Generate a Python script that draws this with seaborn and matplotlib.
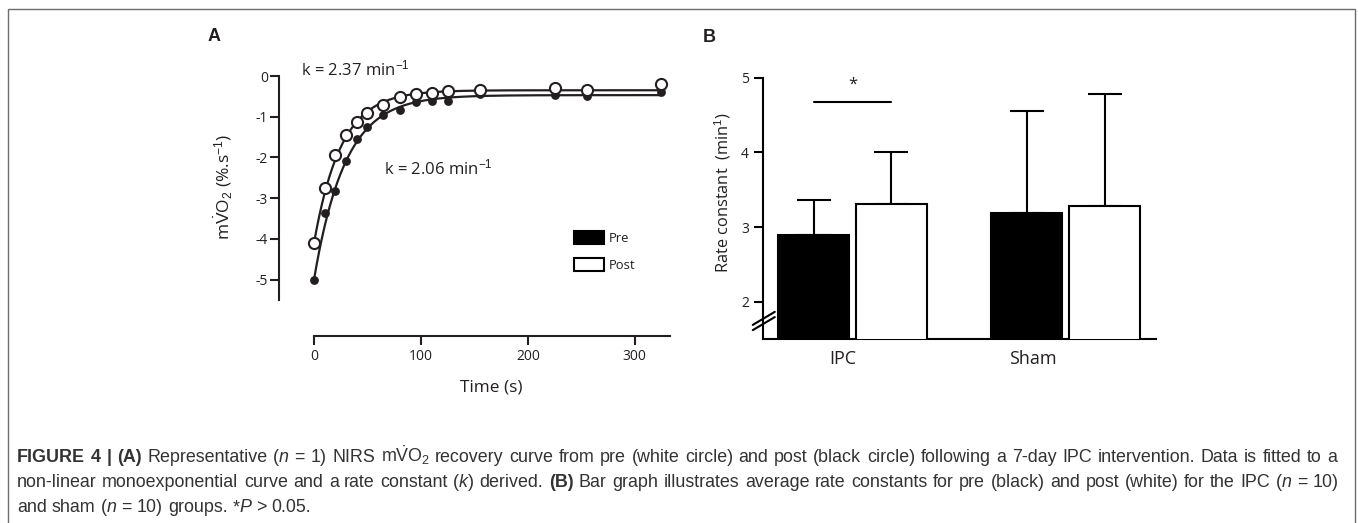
import re
import numpy as np
import pandas as pd
import matplotlib
matplotlib.use("Agg")
import matplotlib.pyplot as plt
import seaborn as sns
from matplotlib.patches import Patch, Rectangle
from matplotlib.container import BarContainer

# ---------------- data ----------------
# Panel A: representative NIRS mVO2 recovery (%.s^-1)
time_s = [0, 10, 20, 30, 40, 50, 65, 80, 95, 110, 125, 155, 225, 255, 325]
open_vals = [-4.10, -2.76, -1.95, -1.45, -1.14, -0.91, -0.71, -0.52, -0.44,
             -0.41, -0.36, -0.35, -0.30, -0.34, -0.20]
filled_vals = [-5.00, -3.37, -2.82, -2.09, -1.54, -1.25, -0.96, -0.84, -0.63,
               -0.61, -0.61, -0.43, -0.47, -0.49, -0.40]
# mono-exponential fit parameters (k in min^-1)
k_open, y0_open, plateau_open = 2.37, -4.10, -0.35
k_filled, y0_filled, plateau_filled = 2.06, -5.00, -0.47
xticks_a = [0, 100, 200, 300]
yticks_a = [0, -1, -2, -3, -4, -5]

# Panel B: rate constants (min^-1)
groups = ["IPC", "Sham"]
conditions = ["Pre", "Post"]
pre_means = [2.90, 3.19]
post_means = [3.31, 3.28]
pre_err = [0.46, 1.36]
post_err = [0.70, 1.50]
yticks_b = [2, 3, 4, 5]
sig_level = 4.675

caption_lines = [
    [("FIGURE 4 | (A)", "b"), (" Representative (", "r"), ("n", "i"), (" = 1) NIRS ", "r"),
     (r"m$\dot{\mathrm{V}}$O$_2$", "r"),
     (" recovery curve from pre (white circle) and post (black circle) following a 7-day IPC intervention. Data is fitted to a", "r")],
    [("non-linear monoexponential curve and a rate constant (", "r"), ("k", "i"), (") derived. ", "r"),
     ("(B)", "b"), (" Bar graph illustrates average rate constants for pre (black) and post (white) for the IPC (", "r"),
     ("n", "i"), (" = 10)", "r")],
    [("and sham (", "r"), ("n", "i"), (" = 10) groups. *", "r"), ("P", "i"), (" > 0.05.", "r")],
]

# ---------------- style ----------------
sns.set_style("ticks")
plt.rcParams["font.family"] = ["Open Sans", "DejaVu Sans"]
plt.rcParams["axes.unicode_minus"] = False
plt.rcParams["mathtext.fontset"] = "custom"
plt.rcParams["mathtext.rm"] = "Liberation Sans"
plt.rcParams["mathtext.it"] = "Liberation Sans:italic"
plt.rcParams["mathtext.bf"] = "Liberation Sans:bold"

W, H = 1358, 523
fig = plt.figure(figsize=(W / 100, H / 100), dpi=100)
fig.patch.set_facecolor("white")
ink = "#231f20"


def fx(px):
    return px / W


def fy(py):
    return 1 - py / H


# ---------------- panel A ----------------
axA = fig.add_axes([fx(314), fy(300), fx(670) - fx(314), fy(76) - fy(300)])
axA.set_xlim(0, 333)
axA.set_ylim(-5.5, 0)

t_fit = np.linspace(0, max(time_s), 400)
fit_open = plateau_open + (y0_open - plateau_open) * np.exp(-k_open / 60 * t_fit)
fit_filled = plateau_filled + (y0_filled - plateau_filled) * np.exp(-k_filled / 60 * t_fit)
sns.lineplot(x=t_fit, y=fit_filled, color=ink, lw=1.6, ax=axA, clip_on=False)
sns.lineplot(x=t_fit, y=fit_open, color=ink, lw=1.6, ax=axA, clip_on=False)
sns.scatterplot(x=time_s, y=filled_vals, color=ink, s=40, edgecolor=ink, linewidth=0,
                ax=axA, clip_on=False, zorder=3)
sns.scatterplot(x=time_s, y=open_vals, facecolor="white", s=64, edgecolor=ink, linewidth=1.5,
                ax=axA, clip_on=False, zorder=4)

for s in ["top", "right"]:
    axA.spines[s].set_visible(False)
axA.spines["left"].set_position(("outward", 35 * 0.72))
axA.spines["bottom"].set_position(("outward", 36 * 0.72))
for s in ["left", "bottom"]:
    axA.spines[s].set_linewidth(1.5)
    axA.spines[s].set_color(ink)
axA.set_xticks(xticks_a)
axA.set_yticks(yticks_a)
axA.set_yticklabels([str(v) for v in yticks_a])
axA.tick_params(axis="both", direction="out", length=6.5, width=1.5, color=ink,
                labelsize=10, labelcolor=ink)
axA.tick_params(axis="y", pad=1.5)
axA.tick_params(axis="x", pad=3)
axA.set_xlabel("")
axA.set_ylabel("")

axA.text(-12, 0.17, "k = 2.37 min$^{-1}$", fontsize=12, color=ink, ha="left", va="center", clip_on=False)
axA.text(65.6, -2.27, "k = 2.06 min$^{-1}$", fontsize=12, color=ink, ha="left", va="center")

fig.text(fx(223), fy(187), r"m$\dot{\mathrm{V}}$O$_2$ (%.s$^{-1}$)", rotation=90,
         fontsize=12.5, color=ink, ha="center", va="center")
fig.text(fx(491), fy(388), "Time (s)", fontsize=12.4, color=ink, ha="center", va="center")

handles = [Patch(facecolor="black", edgecolor="black", lw=1.5, label="Pre"),
           Patch(facecolor="white", edgecolor="black", lw=1.5, label="Post")]
axA.legend(handles=handles, loc="upper left", bbox_to_anchor=(fx(574), fy(231)),
           bbox_transform=fig.transFigure, frameon=False, fontsize=9.4,
           handlelength=2.3, handleheight=1.15, labelspacing=1.0, handletextpad=0.4,
           borderpad=0, borderaxespad=0, labelcolor=ink)

# ---------------- panel B ----------------
axB = fig.add_axes([fx(763), fy(339.3), fx(1156) - fx(763), fy(77.7) - fy(339.3)])
df = pd.DataFrame({
    "group": groups * 2,
    "condition": [conditions[0]] * len(groups) + [conditions[1]] * len(groups),
    "rate": pre_means + post_means,
})
sns.barplot(data=df, x="group", y="rate", hue="condition", hue_order=conditions,
            order=groups, palette={"Pre": "black", "Post": "white"}, edgecolor="black",
            linewidth=1.5, width=0.73, gap=0.09, errorbar=None, legend=False, ax=axB, zorder=3)
axB.set_xlim(-0.42, 1.423)
axB.set_ylim(1.5, 5)

errs = [pre_err, post_err]
bar_conts = [c for c in axB.containers if isinstance(c, BarContainer)]
centers = []
for ci, cont in enumerate(bar_conts):
    cs = []
    for bi, bar in enumerate(list(cont)):
        cx = bar.get_x() + bar.get_width() / 2
        top = bar.get_y() + bar.get_height()
        cs.append(cx)
        axB.errorbar([cx], [top], yerr=[[0], [errs[ci][bi]]], fmt="none", ecolor="black",
                     elinewidth=1.5, capsize=12.5, capthick=1.5, zorder=2)
    centers.append(cs)

# significance bar between IPC pre and post
axB.plot([centers[0][0], centers[1][0]], [sig_level, sig_level], color="black", lw=1.5)
axB.text((centers[0][0] + centers[1][0]) / 2, sig_level + 0.23, "*", ha="center", va="center",
         fontsize=12, color=ink)

for s in ["top", "right"]:
    axB.spines[s].set_visible(False)
for s in ["left", "bottom"]:
    axB.spines[s].set_linewidth(1.5)
    axB.spines[s].set_color("black")
axB.set_yticks(yticks_b)
axB.set_yticklabels([str(v) for v in yticks_b])
axB.set_xticks([-0.045, 0.846])
axB.set_xticklabels(groups)
axB.tick_params(axis="y", direction="out", length=6.5, width=1.5, color="black",
                labelsize=10, labelcolor=ink, pad=3.5)
axB.tick_params(axis="x", length=0, labelsize=13, labelcolor=ink, pad=8)
axB.set_xlabel("")
axB.set_ylabel("")
fig.text(fx(723), fy(193), "Rate constant  (min$^{1}$)", rotation=90, fontsize=11.8,
         color=ink, ha="center", va="center")

# axis break marks
for dy in (0.0, 0.02):
    axB.plot([-0.026, 0.03], [0.035 + dy, 0.085 + dy], transform=axB.transAxes,
             color="black", lw=1.5, clip_on=False, zorder=5)

# panel letters
fig.text(fx(214), fy(36), "A", fontsize=13, fontweight="bold", family="Liberation Sans",
         color=ink, ha="center", va="center")
fig.text(fx(709), fy(37), "B", fontsize=13, fontweight="bold", family="Liberation Sans",
         color=ink, ha="center", va="center")

# frame
fig.add_artist(Rectangle((fx(8), fy(540)), fx(1355) - fx(8), fy(9) - fy(540),
                         transform=fig.transFigure, fill=False, edgecolor="#6d6e71", lw=1))

# ---------------- caption (justified lines 1-2) ----------------
renderer = fig.canvas.get_renderer()
cap_color = "#333333"
cap_size = 12.9


def style_kw(style):
    kw = dict(fontsize=cap_size, color=cap_color, family="Liberation Sans")
    if style == "b":
        kw["fontweight"] = "bold"
    if style == "i":
        kw["fontstyle"] = "italic"
    return kw


def advance(s, kw):
    t1 = fig.text(0, 0, "|" + s + "|", **kw)
    t2 = fig.text(0, 0, "||", **kw)
    w = t1.get_window_extent(renderer).width - t2.get_window_extent(renderer).width
    t1.remove()
    t2.remove()
    return w


line_right = [1337, 1339, None]
x_left = 17.0
for li, runs in enumerate(caption_lines):
    tokens = []
    for s, st in runs:
        for tok in re.split(r"( )", s):
            if tok:
                tokens.append((tok, st, advance(tok, style_kw(st))))
    natural = sum(t[2] for t in tokens)
    nsp = sum(1 for t in tokens if t[0] == " ")
    extra = 0.0
    if line_right[li] is not None and nsp:
        extra = (line_right[li] - x_left - natural) / nsp
    x = x_left
    ybase = 462 + 25 * li
    for tok, st, w in tokens:
        if tok == " ":
            x += w + extra
        else:
            fig.text(fx(x), fy(ybase), tok, ha="left", va="baseline", **style_kw(st))
            x += w

fig.savefig("out.png", dpi=100)
